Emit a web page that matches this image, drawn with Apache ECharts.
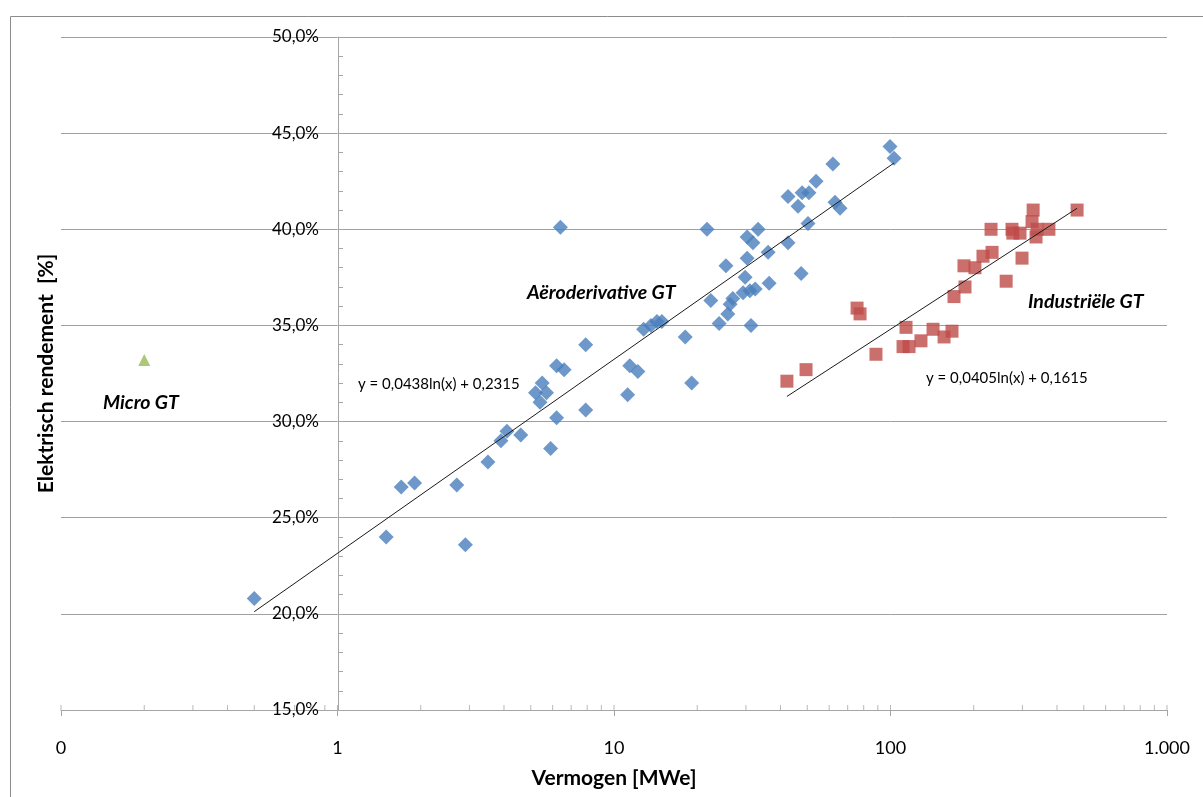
<!DOCTYPE html>
<html>
<head>
<meta charset="utf-8">
<script src="https://cdn.jsdelivr.net/npm/echarts@6/dist/echarts.min.js"></script>
<style>
  html, body { margin: 0; padding: 0; background: #ffffff; }
  #chart { width: 1203px; height: 797px; }
</style>
</head>
<body>
<div id="chart"></div>
<script>
// Aëroderivative gas turbines: power [MWe] and electrical efficiency [%]
const aeroPower = [0.5, 1.5, 1.7, 1.9, 2.7, 2.9, 3.5, 3.9, 4.1, 4.6, 5.2, 5.4, 5.5, 5.7, 5.9,
  6.2, 6.2, 6.4, 6.6, 7.9, 7.9, 11.2, 11.4, 12.2, 12.8, 13.6, 14.3, 14.9, 18.1, 19.1,
  21.7, 22.4, 24.0, 25.4, 25.8, 26.3, 26.9, 30.3, 29.8, 30.3, 29.3, 31.3, 31.0, 31.8, 33.2,
  32.4, 36.1, 36.4, 42.6, 42.6, 46.3, 47.5, 47.9, 50.3, 50.7, 53.8, 61.9, 63.0, 65.7,
  99.6, 103];
const aeroEff = [20.8, 24.0, 26.6, 26.8, 26.7, 23.6, 27.9, 29.0, 29.5, 29.3, 31.5, 31.0, 32.0, 31.5, 28.6,
  32.9, 30.2, 40.1, 32.7, 30.6, 34.0, 31.4, 32.9, 32.6, 34.8, 35.0, 35.2, 35.2, 34.4, 32.0,
  40.0, 36.3, 35.1, 38.1, 35.6, 36.1, 36.4, 39.6, 37.5, 38.5, 36.7, 35.0, 36.8, 39.3, 40.0,
  36.9, 38.8, 37.2, 41.7, 39.3, 41.2, 37.7, 41.9, 40.3, 41.9, 42.5, 43.4, 41.4, 41.1,
  44.3, 43.7];

// Industrial gas turbines
const induPower = [42.2, 49.5, 75.7, 77.6, 88.6, 113.8, 111, 116.7, 128.9, 142.5, 156.2, 166.9,
  169.7, 186, 184.4, 202, 216, 233, 231, 262, 275, 277, 294, 299, 328, 325, 336, 339, 374, 473];
const induEff = [32.1, 32.7, 35.9, 35.6, 33.5, 34.9, 33.9, 33.9, 34.2, 34.8, 34.4, 34.7,
  36.5, 37.0, 38.1, 38.0, 38.6, 38.8, 40.0, 37.3, 40.0, 39.8, 39.8, 38.5, 41.0, 40.4, 39.6, 40.0, 40.0, 41.0];

// Micro gas turbine
const microPower = [0.2];
const microEff = [33.2];

// Logarithmic trendlines y = a*ln(x) + b, efficiency as a fraction
const aeroTrend = [0.0438, 0.2315];
const induTrend = [0.0405, 0.1615];

// Axis ranges
const xMin = 0.1, xMax = 1000;
const yMin = 15, yMax = 50, yStep = 5;

const fmtPct = v => v.toFixed(1).replace('.', ',') + '%';
const fmtPower = v => v < 0.5 ? '0' : String(Math.round(v)).replace(/\B(?=(\d{3})+(?!\d))/g, '.');
const fmtCoef = c => c.toFixed(4).replace('.', ',');
const eqText = t => 'y = ' + fmtCoef(t[0]) + 'ln(x) + ' + fmtCoef(t[1]);

const pairs = (xs, ys) => xs.map((x, i) => [x, ys[i]]);
// Fitted line spans the power range of its own series
function trendLine(t, xs) {
  const lo = Math.min(...xs), hi = Math.max(...xs);
  return [lo, hi].map(x => [x, 100 * (t[0] * Math.log(x) + t[1])]);
}

// Log-axis tick positions: every whole multiple within each decade
const xTickMarks = [];
for (let d = xMin; d < xMax * 0.999; d *= 10) {
  for (let m = 1; m <= 9; m++) xTickMarks.push([d * m, yMin]);
}
xTickMarks.push([xMax, yMin]);

const FONT = 'Lato, "Open Sans", sans-serif';
const axisGrey = '#a6a6a6';

const chart = echarts.init(document.getElementById('chart'), null, { renderer: 'canvas' });

chart.setOption({
  animation: false,
  backgroundColor: '#ffffff',
  textStyle: { fontFamily: FONT },
  grid: { left: 61, right: 36, top: 37, bottom: 87, containLabel: false },
  xAxis: {
    type: 'log',
    logBase: 10,
    min: xMin,
    max: xMax,
    name: 'Vermogen [MWe]',
    nameLocation: 'middle',
    nameGap: 58,
    nameTextStyle: { fontFamily: FONT, fontSize: 21, fontWeight: 'bold', color: '#000' },
    axisLine: { onZero: false, lineStyle: { color: axisGrey, width: 1 } },
    axisTick: { show: true, length: 6, lineStyle: { color: axisGrey } },
    axisLabel: { formatter: fmtPower, fontFamily: FONT, fontSize: 18, color: '#000', margin: 29 },
    splitLine: { show: false },
    minorTick: { show: false }
  },
  yAxis: [
    {
      type: 'value',
      min: yMin,
      max: yMax,
      interval: yStep,
      position: 'left',
      offset: -277,
      axisLine: { show: true, lineStyle: { color: axisGrey, width: 1 } },
      axisTick: { show: true, inside: true, length: 5, lineStyle: { color: axisGrey } },
      minorTick: { show: true, splitNumber: 5, length: 5, lineStyle: { color: axisGrey } },
      axisLabel: { formatter: fmtPct, fontFamily: FONT, fontSize: 17, color: '#000', margin: 19 },
      splitLine: { show: true, lineStyle: { color: '#a0a0a0', width: 1 } }
    },
    {
      type: 'value',
      min: yMin,
      max: yMax,
      position: 'left',
      offset: 0,
      name: 'Elektrisch rendement  [%]',
      nameLocation: 'middle',
      nameGap: 4,
      nameTextStyle: { fontFamily: FONT, fontSize: 21, fontWeight: 'bold', color: '#000' },
      axisLine: { show: false },
      axisTick: { show: false },
      axisLabel: { show: false },
      splitLine: { show: false }
    }
  ],
  series: [
    {
      name: 'Aëroderivative GT',
      type: 'scatter',
      symbol: 'diamond',
      symbolSize: 15,
      itemStyle: { color: '#4A7EBB' },
      data: pairs(aeroPower, aeroEff),
      z: 3
    },
    {
      name: 'Industriële GT',
      type: 'scatter',
      symbol: 'rect',
      symbolSize: 13,
      itemStyle: { color: '#BE4B48' },
      data: pairs(induPower, induEff),
      z: 3
    },
    {
      name: 'Micro GT',
      type: 'scatter',
      symbol: 'triangle',
      symbolSize: 12,
      itemStyle: { color: '#98B954' },
      data: pairs(microPower, microEff),
      z: 3
    },
    {
      type: 'line',
      data: trendLine(aeroTrend, aeroPower),
      showSymbol: false,
      symbol: 'none',
      silent: true,
      lineStyle: { color: '#1a1a1a', width: 1 },
      z: 4
    },
    {
      type: 'line',
      data: trendLine(induTrend, induPower),
      showSymbol: false,
      symbol: 'none',
      silent: true,
      lineStyle: { color: '#1a1a1a', width: 1 },
      z: 4
    },
    {
      // upward tick marks along the power axis
      type: 'scatter',
      symbol: 'rect',
      symbolSize: [1, 5],
      symbolOffset: [0, -2.5],
      silent: true,
      itemStyle: { color: axisGrey },
      data: xTickMarks,
      z: 2
    }
  ],
  graphic: [
    {
      type: 'rect',
      shape: { x: 10.5, y: 16.5, width: 1300, height: 900 },
      style: { fill: 'none', stroke: '#8c8c8c', lineWidth: 1 },
      silent: true
    },
    {
      type: 'text', x: 527, y: 293,
      style: { text: 'Aëroderivative GT', font: 'italic bold 19.5px ' + FONT, fill: '#000', textVerticalAlign: 'middle' }
    },
    {
      type: 'text', x: 1028, y: 302,
      style: { text: 'Industriële GT', font: 'italic bold 19.5px ' + FONT, fill: '#000', textVerticalAlign: 'middle' }
    },
    {
      type: 'text', x: 103, y: 403,
      style: { text: 'Micro GT', font: 'italic bold 19.5px ' + FONT, fill: '#000', textVerticalAlign: 'middle' }
    },
    {
      type: 'text', x: 358, y: 384,
      style: { text: eqText(aeroTrend), font: '15px ' + FONT, fill: '#000', textVerticalAlign: 'middle' }
    },
    {
      type: 'text', x: 926, y: 378,
      style: { text: eqText(induTrend), font: '15px ' + FONT, fill: '#000', textVerticalAlign: 'middle' }
    }
  ]
});
</script>
</body>
</html>
